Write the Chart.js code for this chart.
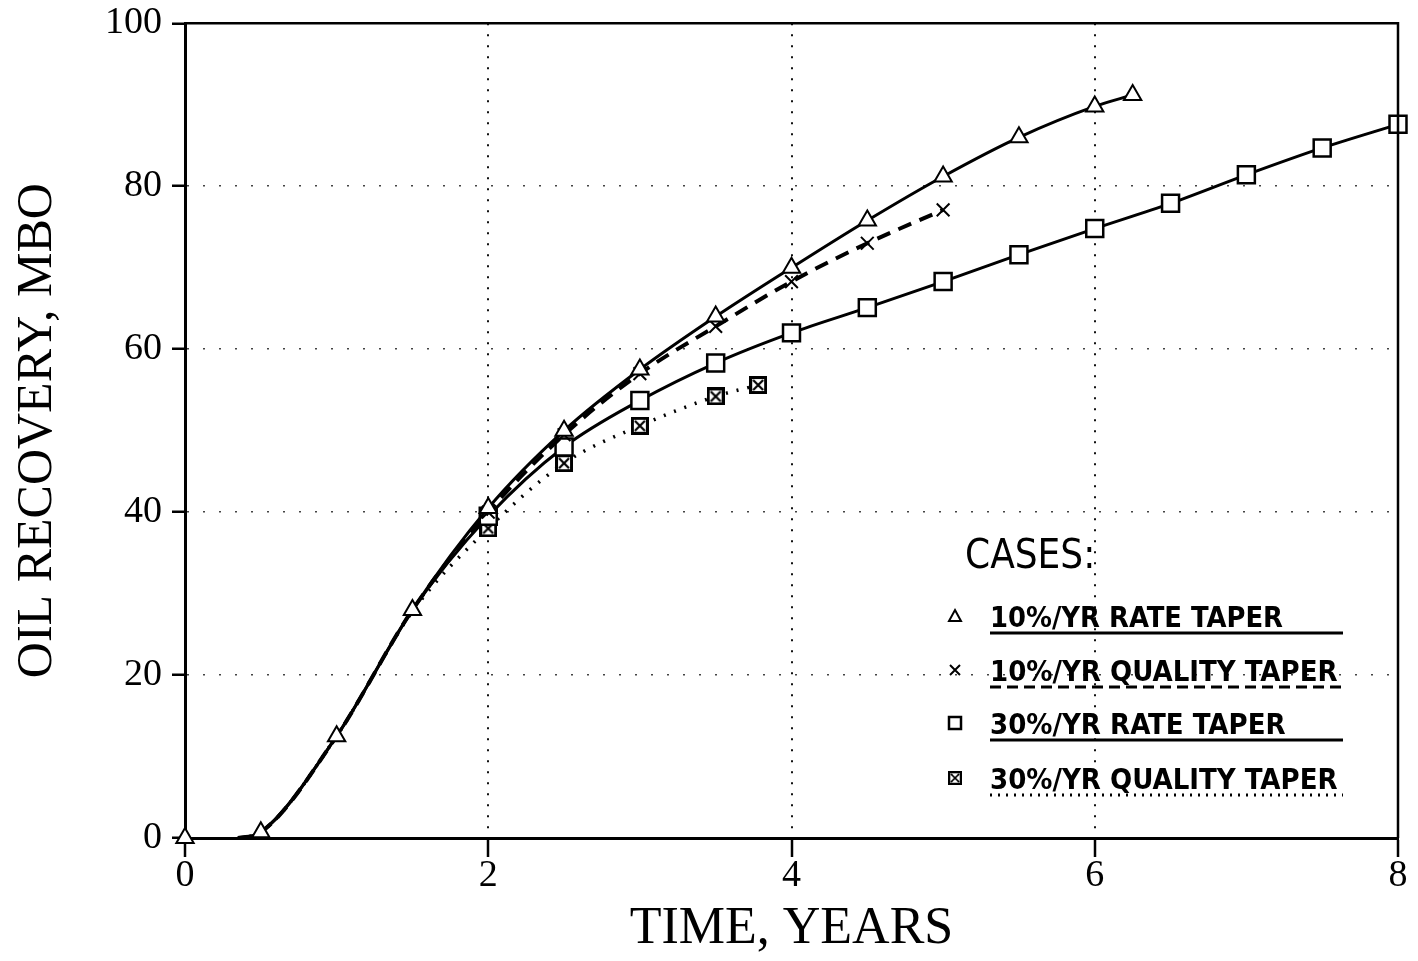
<!DOCTYPE html>
<html>
<head>
<meta charset="utf-8">
<script src="https://cdn.jsdelivr.net/npm/chart.js@4"></script>
<style>
  body { margin: 0; background: #fff; }
  #wrap { width: 1418px; height: 961px; }
</style>
</head>
<body>
<div id="wrap"><canvas id="myChart" width="1418" height="961"></canvas></div>
<script>
// values (years, MBO)
var years10Rate = [0, 0.35, 0.5, 1, 1.5, 2, 2.5, 3, 3.5, 4, 4.5, 5, 5.5, 6, 6.25];
var oil10Rate   = [0, 0, 0.7, 12.5, 28, 40.5, 50, 57.5, 64, 70, 75.8, 81.2, 86, 89.8, 91.2];

var years10Qual = [0.35, 0.5, 1, 1.5, 2, 2.5, 3, 3.5, 4, 4.5, 5];
var oil10Qual   = [0, 0.7, 12.5, 28, 40, 49.5, 57, 62.8, 68.3, 73, 77.1];

var years30Rate = [0.35, 0.5, 1, 1.5, 2, 2.5, 3, 3.5, 4, 4.5, 5, 5.5, 6, 6.5, 7, 7.5, 8];
var oil30Rate   = [0, 0.7, 12.5, 28, 39.5, 48, 53.7, 58.3, 62, 65.1, 68.3, 71.6, 74.8, 77.9, 81.4, 84.7, 87.6];

var years30Qual = [0.35, 0.5, 1, 1.5, 2, 2.5, 3, 3.5, 3.78];
var oil30Qual   = [0, 0.7, 12.5, 27.8, 38, 46, 50.6, 54.2, 55.6];

var xTicks = [0, 2, 4, 6, 8];
var yTicks = [0, 20, 40, 60, 80, 100];

var caseLabels = ['10%/YR RATE TAPER', '10%/YR QUALITY TAPER', '30%/YR RATE TAPER', '30%/YR QUALITY TAPER'];

function pts(xs, ys) {
  return xs.map(function (x, i) { return { x: x, y: ys[i] }; });
}

// square with an X inside, for the 30% quality case
function crossedSquare(size) {
  var c = document.createElement('canvas');
  c.width = size; c.height = size;
  var g = c.getContext('2d');
  g.fillStyle = '#fff';
  g.fillRect(1, 1, size - 2, size - 2);
  g.strokeStyle = '#000';
  g.lineWidth = 3;
  g.strokeRect(1.5, 1.5, size - 3, size - 3);
  g.lineWidth = 2.2;
  g.beginPath();
  g.moveTo(4, 4); g.lineTo(size - 4, size - 4);
  g.moveTo(size - 4, 4); g.lineTo(4, size - 4);
  g.stroke();
  return c;
}
var xSquare = crossedSquare(18);

// hide markers on the shared start of the curves
function radii(n, hidden, r) {
  var a = [];
  for (var i = 0; i < n; i++) a.push(i < hidden ? 0 : r);
  return a;
}

var boxPlugin = {
  id: 'box',
  afterDraw: function (chart) {
    var a = chart.chartArea, ctx = chart.ctx;
    ctx.save();
    ctx.strokeStyle = '#000';
    ctx.lineWidth = 2.5;
    ctx.beginPath();
    ctx.moveTo(a.left, a.top); ctx.lineTo(a.right, a.top); ctx.lineTo(a.right, a.bottom);
    ctx.stroke();
    ctx.restore();
  }
};

var casesPlugin = {
  id: 'cases',
  afterDraw: function (chart) {
    var ctx = chart.ctx;
    ctx.save();
    ctx.fillStyle = '#000';
    ctx.font = '40px "DejaVu Sans Condensed", "DejaVu Sans", sans-serif';
    ctx.textBaseline = 'alphabetic';
    ctx.fillText('CASES:', 965, 568, 150);

    var rows = [627, 681, 734, 789];
    var widths = [293, 348, 300, 353];
    var dashes = [[], [11, 6], [], [2, 6]];
    ctx.font = '600 29px "DejaVu Sans Condensed", "DejaVu Sans", sans-serif';
    for (var i = 0; i < caseLabels.length; i++) {
      var b = rows[i];
      ctx.fillText(caseLabels[i], 990, b, widths[i]);
      ctx.strokeStyle = '#000';
      ctx.lineWidth = 3;
      ctx.setLineDash(dashes[i]);
      ctx.beginPath();
      ctx.moveTo(990, b + 6); ctx.lineTo(1343, b + 6);
      ctx.stroke();
      ctx.setLineDash([]);
      // marker
      var mx = 955, my = b - 11;
      ctx.lineWidth = 2;
      ctx.beginPath();
      if (i === 0) {
        ctx.moveTo(mx, my - 6); ctx.lineTo(mx + 6, my + 5); ctx.lineTo(mx - 6, my + 5); ctx.closePath();
        ctx.stroke();
      } else if (i === 1) {
        ctx.moveTo(mx - 5, my - 5); ctx.lineTo(mx + 5, my + 5);
        ctx.moveTo(mx + 5, my - 5); ctx.lineTo(mx - 5, my + 5);
        ctx.stroke();
      } else if (i === 2) {
        ctx.lineWidth = 2.5;
        ctx.strokeRect(mx - 6, my - 6, 12, 12);
      } else {
        ctx.drawImage(xSquare, mx - 7, my - 7, 14, 14);
      }
    }
    ctx.restore();
  }
};

var tickFont = { family: '"Liberation Serif", "DejaVu Serif", serif', size: 38, lineHeight: 0.7 };

var config = {
  type: 'line',
  data: {
    datasets: [{
      label: caseLabels[0],
      data: pts(years10Rate, oil10Rate),
      clip: false,
      borderColor: '#000',
      borderWidth: 3,
      backgroundColor: '#fff',
      pointStyle: 'triangle',
      pointRadius: years10Rate.map(function (x, i) { return i === 1 ? 0 : 10; }),
      pointBorderWidth: 2,
      pointBorderColor: '#000',
      pointBackgroundColor: '#fff',
      cubicInterpolationMode: 'monotone',
      segment: {
        borderColor: function (c) { return c.p0DataIndex === 0 ? 'rgba(0,0,0,0)' : undefined; }
      }
    }, {
      label: caseLabels[1],
      data: pts(years10Qual, oil10Qual),
      clip: false,
      borderColor: '#000',
      borderWidth: 4,
      borderDash: [14, 9],
      pointStyle: 'crossRot',
      pointRadius: radii(years10Qual.length, 4, 9),
      pointBorderWidth: 2,
      pointBorderColor: '#000',
      cubicInterpolationMode: 'monotone'
    }, {
      label: caseLabels[2],
      data: pts(years30Rate, oil30Rate),
      clip: false,
      borderColor: '#000',
      borderWidth: 3,
      pointStyle: 'rect',
      pointRadius: radii(years30Rate.length, 4, 12),
      pointBorderWidth: 2.5,
      pointBorderColor: '#000',
      pointBackgroundColor: '#fff',
      cubicInterpolationMode: 'monotone'
    }, {
      label: caseLabels[3],
      data: pts(years30Qual, oil30Qual),
      clip: false,
      borderColor: '#000',
      borderWidth: 3.5,
      borderDash: [2, 9],
      pointStyle: xSquare,
      pointRadius: radii(years30Qual.length, 4, 9),
      cubicInterpolationMode: 'monotone'
    }]
  },
  options: {
    responsive: false,
    animation: false,
    layout: { padding: { top: 22, right: 20, left: 0, bottom: 0 } },
    plugins: { legend: { display: false }, tooltip: { enabled: false } },
    scales: {
      x: {
        type: 'linear',
        min: 0, max: 8,
        afterFit: function (s) { s.height = 123; },
        afterBuildTicks: function (s) { s.ticks = xTicks.map(function (v) { return { value: v }; }); },
        grid: {
          color: function (c) { return (c.tick && (c.tick.value === 0 || c.tick.value === 8)) ? 'rgba(0,0,0,0)' : '#111'; },
          lineWidth: 2,
          tickLength: 19,
          tickColor: '#000',
          tickWidth: 2.5,
          tickBorderDash: []
        },
        border: { color: '#000', width: 3, dash: [2, 9] },
        ticks: {
          color: '#000',
          padding: 6,
          font: tickFont
        },
        title: {
          display: true,
          text: 'TIME, YEARS',
          color: '#000',
          padding: { top: 0, bottom: 0 },
          font: { family: '"Liberation Serif", "DejaVu Serif", serif', size: 52 }
        }
      },
      y: {
        min: 0, max: 100,
        afterFit: function (s) { s.width = 185; },
        afterBuildTicks: function (s) { s.ticks = yTicks.map(function (v) { return { value: v }; }); },
        grid: {
          color: function (c) { return (c.tick && (c.tick.value === 0 || c.tick.value === 100)) ? 'rgba(0,0,0,0)' : '#444'; },
          lineWidth: 1.5,
          tickLength: 13,
          tickColor: '#000',
          tickWidth: 2.5,
          tickBorderDash: []
        },
        border: { color: '#000', width: 3, dash: [2, 14] },
        ticks: {
          color: '#000',
          padding: 10,
          font: tickFont
        },
        title: {
          display: true,
          text: 'OIL RECOVERY, MBO',
          color: '#000',
          padding: { top: 8, bottom: 0 },
          font: { family: '"Liberation Serif", "DejaVu Serif", serif', size: 50 }
        }
      }
    }
  },
  plugins: [boxPlugin, casesPlugin]
};

window.ctx = document.getElementById('myChart').getContext('2d');
window.myChart = new Chart(ctx, config);
</script>
</body>
</html>
